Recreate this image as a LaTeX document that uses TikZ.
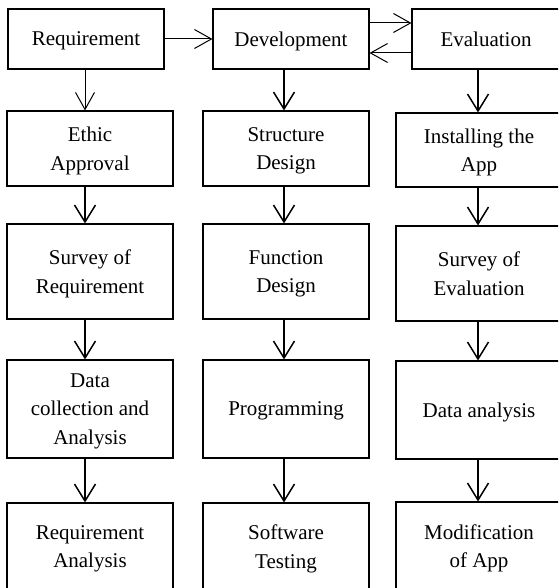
\documentclass[tikz,border=0pt]{standalone}
\usepackage{fontspec}
\setmainfont{Liberation Serif}
\usetikzlibrary{arrows.meta}
\begin{document}
\begin{tikzpicture}[x=1pt,y=-1pt,
  box/.style={draw=black, line width=1.1pt, inner sep=0pt, align=center, text depth=0pt,
    font=\fontsize{21}{28.5}\selectfont, text=black},
  arr/.style={line width=1.5pt, -{Straight Barb[length=17pt,width=21pt,line width=1.5pt]}},
  tarr/.style={line width=1pt, -{Straight Barb[length=17pt,width=19pt,line width=1pt]}}]
\useasboundingbox (0,0) rectangle (558,588);
\clip (0,0) rectangle (558,588);
% top row
\node[box, minimum width=156pt, minimum height=60pt] (req) at (86,39) {Requirement};
\node[box, minimum width=156pt, minimum height=60pt] (dev) at (291,39) {Development};
\node[box, minimum width=148pt, minimum height=60pt] (eval) at (486,39) {Evaluation};
% column 1
\node[box, minimum width=166pt, minimum height=75pt] (ethic) at (90,148.5) {Ethic\\Approval};
\node[box, minimum width=166pt, minimum height=95pt] (surreq) at (90,271.5) {Survey of\\Requirement};
\node[box, minimum width=166pt, minimum height=98pt] (data) at (90,409) {Data\\collection and\\Analysis};
\node[box, minimum width=166pt, minimum height=87pt] (reqan) at (90,546.5) {Requirement\\Analysis};
% column 2
\node[box, minimum width=166pt, minimum height=75pt] (struct) at (286,148.5) {Structure\\Design};
\node[box, minimum width=166pt, minimum height=95pt] (func) at (286,271.5) {Function\\Design};
\node[box, minimum width=166pt, minimum height=98pt] (prog) at (286,409) {Programming};
\node[box, minimum width=166pt, minimum height=87pt] (test) at (286,546.5) {Software\\Testing};
% column 3
\node[box, minimum width=166pt, minimum height=74pt] (inst) at (479,150) {Installing the\\App};
\node[box, minimum width=166pt, minimum height=95pt] (sureval) at (479,273.5) {Survey of\\Evaluation};
\node[box, minimum width=166pt, minimum height=98pt] (dana) at (479,410) {Data analysis};
\node[box, minimum width=166pt, minimum height=88pt] (modif) at (479,546) {Modification\\of App};
% arrow columns
\coordinate (a1) at (85,0);
\coordinate (a2) at (284,0);
\coordinate (a3) at (478,0);
% horizontal arrows
\draw[tarr] (req.east) -- (dev.west);
\draw[tarr] ([yshift=16pt]dev.east) -- ([yshift=16pt]eval.west);
\draw[tarr] ([yshift=-14pt]eval.west) -- ([yshift=-14pt]dev.east);
% vertical arrows
\draw[tarr] (req.south -| a1) -- (ethic.north -| a1);
\draw[arr] (ethic.south -| a1) -- (surreq.north -| a1);
\draw[arr] (surreq.south -| a1) -- (data.north -| a1);
\draw[arr] (data.south -| a1) -- (reqan.north -| a1);
\draw[arr] (dev.south -| a2) -- (struct.north -| a2);
\draw[arr] (struct.south -| a2) -- (func.north -| a2);
\draw[arr] (func.south -| a2) -- (prog.north -| a2);
\draw[arr] (prog.south -| a2) -- (test.north -| a2);
\draw[arr] (eval.south -| a3) -- (inst.north -| a3);
\draw[arr] (inst.south -| a3) -- (sureval.north -| a3);
\draw[arr] (sureval.south -| a3) -- (dana.north -| a3);
\draw[arr] (dana.south -| a3) -- (modif.north -| a3);
\end{tikzpicture}
\end{document}
